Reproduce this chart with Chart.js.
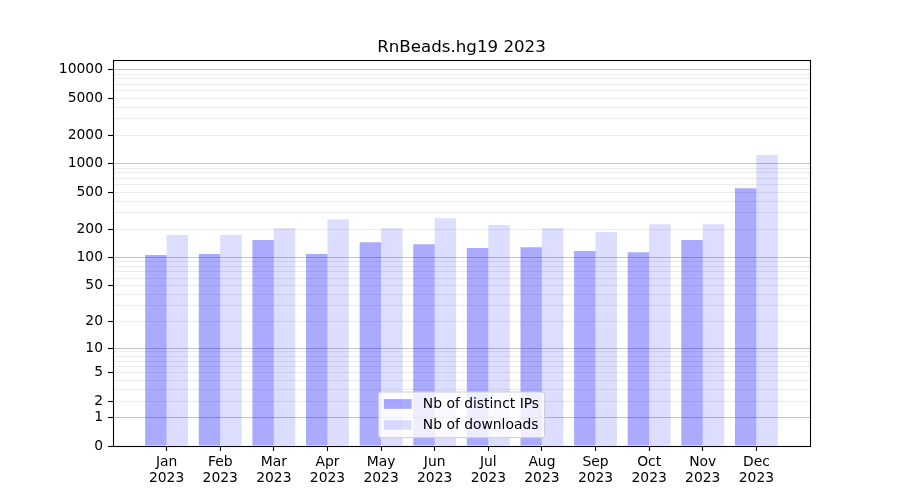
<!DOCTYPE html>
<html>
<head>
<meta charset="utf-8">
<script src="https://cdn.jsdelivr.net/npm/chart.js@4"></script>
<style>
  html, body { margin: 0; padding: 0; background: #fff; }
  #wrap { width: 900px; height: 500px; }
</style>
</head>
<body>
<div id="wrap"><canvas id="c" width="900" height="500"></canvas></div>
<script>
// ---- data ----
const chartTitle = 'RnBeads.hg19 2023';
const months = ['Jan', 'Feb', 'Mar', 'Apr', 'May', 'Jun', 'Jul', 'Aug', 'Sep', 'Oct', 'Nov', 'Dec'];
const year = '2023';
const distinctIPs = [106, 109, 154, 109, 146, 139, 126, 129, 117, 114, 154, 550];
const downloads = [174, 174, 206, 257, 206, 263, 222, 206, 187, 227, 227, 1237];
const seriesLabels = ['Nb of distinct IPs', 'Nb of downloads'];
const yLabeledTicks = [0, 1, 2, 5, 10, 20, 50, 100, 200, 500, 1000, 2000, 5000, 10000];
const yMajorGrid = [1, 10, 100, 1000, 10000];
const yMax = 12700;

// all tick positions (labeled and minor grid positions)
const yAllTicks = [0];
for (let d = 1; d <= 1000; d *= 10) for (let k = 1; k <= 9; k++) yAllTicks.push(k * d);
yAllTicks.push(10000);

// ---- log(1+x) scale ----
class Log1pScale extends Chart.LinearScale {
  buildTicks() { return yAllTicks.filter(v => v >= this.min && v <= this.max).map(v => ({ value: v })); }
  configure() {
    super.configure();
    this._t0 = Math.log10(1 + this.min);
    this._t1 = Math.log10(1 + this.max);
  }
  getPixelForValue(v) {
    return this.getPixelForDecimal((Math.log10(1 + v) - this._t0) / (this._t1 - this._t0));
  }
  getValueForPixel(p) {
    return Math.pow(10, this._t0 + this.getDecimalForPixel(p) * (this._t1 - this._t0)) - 1;
  }
}
Log1pScale.id = 'log1p';
Chart.register(Log1pScale);

Chart.defaults.font.family = "'DejaVu Sans', sans-serif";
Chart.defaults.color = '#000';

const xLabels = ['', ...months.map(m => [m, year]), ''];
const pad = arr => [null, ...arr, null];

const framePlugin = {
  id: 'frameAndLegend',
  afterDraw(chart) {
    const ctx = chart.ctx;
    const a = chart.chartArea;
    ctx.save();
    // frame
    ctx.strokeStyle = '#000';
    ctx.lineWidth = 1.1;
    ctx.strokeRect(Math.round(a.left) + 0.5, Math.round(a.top) + 0.5,
                   Math.round(a.right) - Math.round(a.left), Math.round(a.bottom) - Math.round(a.top));
    // legend (lower center, inside axes)
    const fs = 13.89;
    ctx.font = fs + "px 'DejaVu Sans'";
    const ds = chart.data.datasets;
    let tw = 0;
    ds.forEach(d => { tw = Math.max(tw, ctx.measureText(d.label).width); });
    const bp = 0.4 * fs, hl = 2.0 * fs, htp = 0.8 * fs;
    const w = bp * 2 + hl + htp + tw;
    const h = 45.7;
    const cx = (a.left + a.right) / 2;
    const x0 = cx - w / 2;
    const y0 = a.bottom - 8.3 - h;
    const r = 3;
    ctx.beginPath();
    ctx.moveTo(x0 + r, y0);
    ctx.lineTo(x0 + w - r, y0);
    ctx.quadraticCurveTo(x0 + w, y0, x0 + w, y0 + r);
    ctx.lineTo(x0 + w, y0 + h - r);
    ctx.quadraticCurveTo(x0 + w, y0 + h, x0 + w - r, y0 + h);
    ctx.lineTo(x0 + r, y0 + h);
    ctx.quadraticCurveTo(x0, y0 + h, x0, y0 + h - r);
    ctx.lineTo(x0, y0 + r);
    ctx.quadraticCurveTo(x0, y0, x0 + r, y0);
    ctx.closePath();
    ctx.fillStyle = 'rgba(255,255,255,0.8)';
    ctx.fill();
    ctx.strokeStyle = '#cccccc';
    ctx.lineWidth = 1;
    ctx.stroke();
    ds.forEach((d, i) => {
      const cy = y0 + 12 + i * 21;
      ctx.fillStyle = d.backgroundColor;
      ctx.fillRect(x0 + bp, cy - 4.9, hl, 9.7);
      ctx.fillStyle = '#000';
      ctx.textBaseline = 'middle';
      ctx.textAlign = 'left';
      ctx.fillText(d.label, x0 + bp + hl + htp, cy);
    });
    ctx.restore();
  }
};

new Chart(document.getElementById('c'), {
  type: 'bar',
  data: {
    labels: xLabels,
    datasets: [
      { label: seriesLabels[0], data: pad(distinctIPs), backgroundColor: 'rgba(0,0,255,0.333)', borderWidth: 0,
        categoryPercentage: 0.8, barPercentage: 1.0 },
      { label: seriesLabels[1], data: pad(downloads), backgroundColor: 'rgba(0,0,255,0.133)', borderWidth: 0,
        categoryPercentage: 0.8, barPercentage: 1.0 }
    ]
  },
  options: {
    responsive: false,
    animation: false,
    devicePixelRatio: 1,
    layout: { padding: { left: 0, right: 90, top: 0, bottom: 0 } },
    plugins: {
      legend: { display: false },
      tooltip: { enabled: false },
      title: {
        display: true,
        fullSize: false,
        text: chartTitle,
        color: '#000',
        font: { size: 16.67, weight: 'normal', lineHeight: 1.2 },
        padding: { top: 38, bottom: 2 }
      }
    },
    scales: {
      x: {
        type: 'category',
        offset: false,
        grid: {
          offset: false,
          drawOnChartArea: false,
          drawTicks: true,
          tickLength: 5,
          tickWidth: 1.1,
          tickColor: c => (c.index === 0 || c.index === xLabels.length - 1) ? 'rgba(0,0,0,0)' : '#000'
        },
        border: { display: false },
        ticks: {
          autoSkip: false, maxRotation: 0, minRotation: 0, padding: 3,
          color: '#000',
          font: { size: 13.89, lineHeight: 1.15 }
        },
        afterFit: s => { s.height = 54; }
      },
      y: {
        type: 'log1p',
        min: 0,
        max: yMax,
        grid: {
          drawTicks: true,
          tickLength: 5,
          lineWidth: 1,
          tickWidth: 1.1,
          color: c => yMajorGrid.includes(c.tick.value) ? 'rgba(176,176,176,0.75)' : 'rgba(176,176,176,0.25)',
          tickColor: c => yLabeledTicks.includes(c.tick.value) ? '#000' : 'rgba(0,0,0,0)'
        },
        border: { display: false },
        ticks: {
          autoSkip: false,
          padding: 5,
          color: '#000',
          font: { size: 13.89 },
          callback: v => yLabeledTicks.includes(v) ? String(v) : ''
        },
        afterFit: s => { s.width = 113; }
      }
    }
  },
  plugins: [framePlugin]
});
</script>
</body>
</html>
